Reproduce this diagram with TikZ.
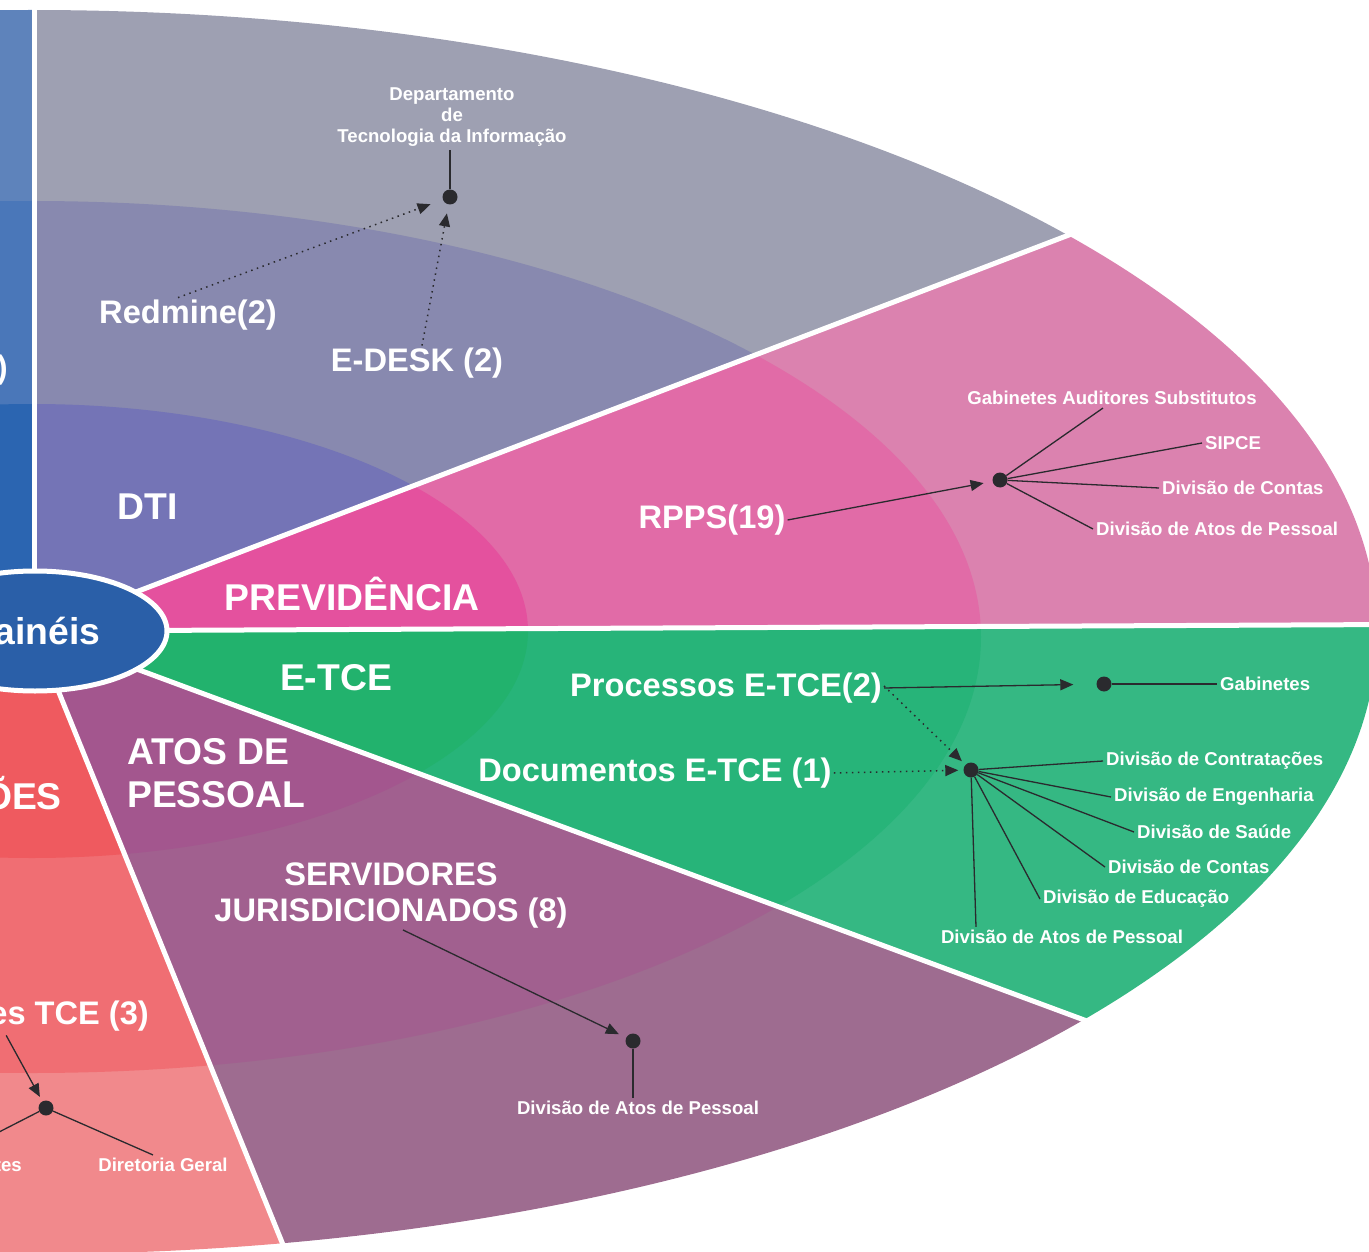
\documentclass[tikz,border=0pt]{standalone}
\usepackage{fontspec}
\setmainfont{Liberation Sans}
\usetikzlibrary{arrows.meta,shapes.geometric}
\definecolor{blueA}{HTML}{5E83BB}\definecolor{blueB}{HTML}{4A77B9}\definecolor{blueC}{HTML}{2B65B1}
\definecolor{dtiA}{HTML}{9EA0B2}\definecolor{dtiB}{HTML}{8889AF}\definecolor{dtiC}{HTML}{7474B6}
\definecolor{prevA}{HTML}{DB82AF}\definecolor{prevB}{HTML}{E16BA7}\definecolor{prevC}{HTML}{E4519E}
\definecolor{etceA}{HTML}{35B883}\definecolor{etceB}{HTML}{27B479}\definecolor{etceC}{HTML}{22B26D}
\definecolor{atosA}{HTML}{9E6C90}\definecolor{atosB}{HTML}{A1608F}\definecolor{atosC}{HTML}{A3568E}
\definecolor{redA}{HTML}{F1898C}\definecolor{redB}{HTML}{F06E73}\definecolor{redC}{HTML}{EF5A5F}
\definecolor{painel}{HTML}{2A5FA8}
\definecolor{dark}{HTML}{2A2A2E}
\tikzset{lblbig/.style={text=white,inner sep=2pt,font=\bfseries\fontsize{37.3}{43}\selectfont},
         lblmid/.style={text=white,inner sep=2pt,font=\bfseries\fontsize{32.6}{36}\selectfont},
         lblsmall/.style={text=white,inner sep=3pt,font=\bfseries\fontsize{18.6}{21}\selectfont},
         dot/.style={circle,fill=dark,inner sep=0pt,minimum size=15pt},
         link/.style={draw=dark,line width=1.3pt},
         arr/.style={link,-{Triangle[length=13pt,width=11pt]}},
         dotarr/.style={arr,line width=1.5pt,dash pattern=on 1.5pt off 4.5pt},
         sep/.style={draw=white,line width=5pt}
         }

\begin{document}
\begin{tikzpicture}[x=1pt,y=-1pt]
\useasboundingbox (0,0) rectangle (1369,1252);
\clip (0,0) rectangle (1369,1252);
\coordinate (c) at (34,631);
\coordinate (rimtop) at (34,-100);
\coordinate (rimdti) at (1500,70);
\coordinate (rimprev) at (1500,624);
\coordinate (rimetce) at (1500,1174);
\coordinate (rimatos) at (346,1400);
\coordinate (rimleft) at (-100,631);
\foreach \pa/\pb/\pc/\sec in {{(rimleft)}/{(-100,-100)}/{(rimtop)}/blue,
    {(rimtop)}/{(1500,-100)}/{(rimdti)}/dti,
    {(rimdti)}/{(1500,350)}/{(rimprev)}/prev,
    {(rimprev)}/{(1500,900)}/{(rimetce)}/etce,
    {(rimetce)}/{(1500,1400)}/{(rimatos)}/atos,
    {(rimatos)}/{(-100,1400)}/{(rimleft)}/red}
{
\begin{scope}
  \clip (c) -- \pa -- \pb -- \pc -- cycle;
  \fill[\sec A] (32,632) ellipse [x radius=1345pt, y radius=622pt];
  \fill[\sec B] (32,637) ellipse [x radius=949pt, y radius=436pt];
  \fill[\sec C] (32,631) ellipse [x radius=496pt, y radius=227pt];
\end{scope}
}
\foreach \r in {rimtop,rimdti,rimprev,rimetce,rimatos}
  \draw[sep] (c) -- (\r);
\node[ellipse,draw=white,line width=5pt,fill=painel,inner sep=0pt,
      minimum width=264pt,minimum height=120pt,lblbig] (paineis) at (35,631) {Painéis};

% section titles
\node[lblbig] (dti) at (148,507) {DTI};
\node[lblbig] (prev) at (352,594) {PREVIDÊNCIA};
\node[lblbig] (etce) at (336,678) {E-TCE};
\node[lblbig,align=left,anchor=west] (atos) at (125,773) {ATOS DE\\PESSOAL};
\node[lblbig,anchor=east] (oes) at (64,793) {ÕES};

% panels
\node[lblmid,anchor=east] (paren) at (10,370) {)};
\node[lblmid] (redmine) at (188,315) {Redmine(2)};
\node[lblmid] (edesk) at (417,363) {E-DESK (2)};
\node[lblmid] (rpps) at (712,520) {RPPS(19)};
\node[lblmid] (procs) at (726,688) {Processos E-TCE(2)};
\node[lblmid] (docs) at (655,773) {Documentos E-TCE (1)};
\node[lblmid,align=center] (servj) at (391,895) {SERVIDORES\\JURISDICIONADOS (8)};
\node[lblmid,anchor=east] (servtce) at (151,1016) {es TCE (3)};

% units
\node[lblsmall,align=center] (dept) at (452,117) {Departamento\\de\\Tecnologia da Informação};
\node[lblsmall] (gas) at (1112,398) {Gabinetes Auditores Substitutos};
\node[lblsmall,anchor=west] (sipce) at (1202,443) {SIPCE};
\node[lblsmall,anchor=west] (dcontasa) at (1159,488) {Divisão de Contas};
\node[lblsmall,anchor=west] (datosa) at (1093,529) {Divisão de Atos de Pessoal};
\node[lblsmall,anchor=west] (gab) at (1217,684) {Gabinetes};
\node[lblsmall,anchor=west] (dcontr) at (1103,761) {Divisão de Contratações};
\node[lblsmall,anchor=west] (deng) at (1111,797) {Divisão de Engenharia};
\node[lblsmall,anchor=west] (dsaude) at (1134,832) {Divisão de Saúde};
\node[lblsmall,anchor=west] (dcontasb) at (1105,867) {Divisão de Contas};
\node[lblsmall,anchor=west] (deduc) at (1040,899) {Divisão de Educação};
\node[lblsmall] (datosb) at (1062,937) {Divisão de Atos de Pessoal};
\node[lblsmall] (datosc) at (638,1108) {Divisão de Atos de Pessoal};
\node[lblsmall] (dirg) at (163,1165) {Diretoria Geral};
\node[lblsmall,anchor=east] (tes) at (25,1166) {tes};
\coordinate (gabl) at (-40,1152);

% dots
\node[dot] (dtidot) at (450,197) {};
\node[dot] (rppsdot) at (1000,480) {};
\node[dot] (gabdot) at (1104,684) {};
\node[dot] (divdot) at (971,770) {};
\node[dot] (atosdot) at (633,1041) {};
\node[dot] (tcedot) at (46,1108) {};

\draw[link] (dtidot) -- (dtidot |- dept.south);
\draw[dotarr,shorten >=13pt] ([xshift=-10pt]redmine.north) -- (dtidot);
\draw[dotarr,shorten >=9pt] ([xshift=5pt]edesk.north) -- (dtidot);

\draw[arr,shorten >=9pt] (rpps.east) -- (rppsdot);
\foreach \t in {sipce,dcontasa,datosa}
  \draw[link] (rppsdot) -- (\t.west);
\draw[link] (rppsdot) -- ([xshift=-9pt]gas.south);

\draw[arr,shorten >=23pt] (procs.east) -- (gabdot);
\draw[link] (gabdot) -- (gab.west);
\draw[dotarr,shorten >=5pt] ([yshift=2pt]procs.east) -- (divdot);
\draw[dotarr,shorten >=5pt] (docs.east) -- (divdot);
\foreach \t in {dcontr,deng,dsaude,dcontasb,deduc}
  \draw[link] (divdot) -- (\t.west);
\draw[link] (divdot) -- ([xshift=5pt]divdot |- datosb.north);

\draw[arr,shorten >=8pt] ([xshift=12pt]servj.south) -- (atosdot);
\draw[link] (atosdot) -- (atosdot |- datosc.north);

\draw[arr,shorten >=5pt] ([xshift=19pt,yshift=-2pt]servtce.south west) -- (tcedot);
\draw[link] (tcedot) -- ([xshift=-10pt]dirg.north);
\draw[link] (tcedot) -- (gabl);
\end{tikzpicture}
\end{document}
